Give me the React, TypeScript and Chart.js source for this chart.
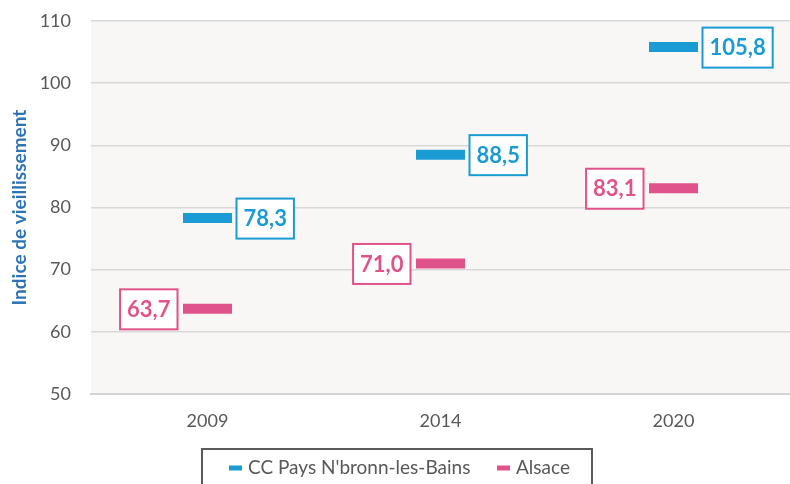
import React, { useEffect, useRef } from "react";
import { Chart, registerables } from "chart.js";

Chart.register(...registerables);

const categories = ["2009", "2014", "2020"];
const seriesNames = ["CC Pays N'bronn-les-Bains", "Alsace"];
const ccValues = [78.3, 88.5, 105.8];
const alsaceValues = [63.7, 71.0, 83.1];
const yTicks = [50, 60, 70, 80, 90, 100, 110];

const BLUE = "#1a9bd3";
const PINK = "#e0538a";
const FONT = "Lato, 'Open Sans', sans-serif";

const bgPlugin = {
  id: "plotBg",
  beforeDraw(chart: any) {
    const { ctx, chartArea } = chart;
    ctx.save();
    ctx.fillStyle = "#f8f7f6";
    ctx.fillRect(chartArea.left, chartArea.top, chartArea.right - chartArea.left, chartArea.bottom - chartArea.top);
    ctx.restore();
  },
};

const labelPlugin = {
  id: "valueLabels",
  afterDatasetsDraw(chart: any) {
    const { ctx } = chart;
    ctx.save();
    ctx.font = `bold 22px ${FONT}`;
    ctx.textBaseline = "middle";
    chart.data.datasets.forEach((ds: any, di: number) => {
      const meta = chart.getDatasetMeta(di);
      const color = ds.borderColor;
      meta.data.forEach((pt: any, i: number) => {
        const v = ds.data[i] as number;
        const txt = v.toFixed(1).replace(".", ",");
        const tw = ctx.measureText(txt).width;
        const w = tw + 14;
        const h = 40;
        const left = di === 0 ? pt.x + 29 : pt.x - 30 - w;
        const top = pt.y - h / 2 + 0.5;
        ctx.fillStyle = "#ffffff";
        ctx.fillRect(left, top, w, h);
        ctx.strokeStyle = color;
        ctx.lineWidth = 2;
        ctx.strokeRect(left, top, w, h);
        ctx.fillStyle = color;
        ctx.textAlign = "left";
        ctx.fillText(txt, left + 7, pt.y + 1);
      });
    });
    ctx.restore();
  },
};

const extrasPlugin = {
  id: "extras",
  afterDraw(chart: any) {
    const { ctx, chartArea } = chart;
    ctx.save();
    ctx.translate(20, (chartArea.top + chartArea.bottom) / 2);
    ctx.rotate(-Math.PI / 2);
    ctx.font = `bold 19px ${FONT}`;
    ctx.fillStyle = "#2e74b5";
    ctx.textAlign = "center";
    ctx.textBaseline = "middle";
    ctx.fillText("Indice de vieillissement", 0, 0);
    ctx.restore();

    ctx.save();
    ctx.strokeStyle = "#595959";
    ctx.lineWidth = 2;
    ctx.strokeRect(202, 449, 390, 60);
    ctx.font = `19px ${FONT}`;
    ctx.textBaseline = "middle";
    ctx.textAlign = "left";
    const items = [
      { name: seriesNames[0], color: BLUE, x: 229 },
      { name: seriesNames[1], color: PINK, x: 497 },
    ];
    items.forEach((it) => {
      ctx.strokeStyle = it.color;
      ctx.lineWidth = 5;
      ctx.beginPath();
      ctx.moveTo(it.x, 468);
      ctx.lineTo(it.x + 13, 468);
      ctx.stroke();
      ctx.fillStyle = "#595959";
      ctx.fillText(it.name, it.x + 19, 468);
    });
    ctx.restore();
  },
};

function zeroPad(s: any) {
  s.paddingTop = 0;
  s.paddingBottom = 0;
  s.paddingLeft = 0;
  s.paddingRight = 0;
}

export default function App() {
  const ref = useRef<HTMLCanvasElement>(null);
  useEffect(() => {
    if (!ref.current) return;
    const mk = (label: string, data: number[], color: string) => ({
      label,
      data,
      borderColor: color,
      backgroundColor: color,
      showLine: false,
      pointStyle: "line",
      pointRadius: 24.5,
      pointHoverRadius: 24.5,
      pointBorderWidth: 10,
      pointBorderColor: color,
    });
    const chart = new Chart(ref.current, {
      type: "line",
      data: {
        labels: categories,
        datasets: [mk(seriesNames[0], ccValues, BLUE), mk(seriesNames[1], alsaceValues, PINK)],
      },
      options: {
        animation: false,
        responsive: false,
        maintainAspectRatio: false,
        events: [],
        layout: { autoPadding: false, padding: { top: 21, left: 0, right: 0, bottom: 0 } },
        plugins: {
          legend: { display: false },
          tooltip: { enabled: false },
        },
        scales: {
          x: {
            type: "category",
            offset: true,
            grid: { display: false, drawTicks: false },
            border: { display: true, color: "#d4d4d4", width: 2 },
            ticks: {
              padding: 16,
              color: "#595959",
              font: { family: FONT, size: 18 },
            },
            afterFit(s: any) {
              s.height = 90;
              zeroPad(s);
            },
          },
          y: {
            min: 50,
            max: 110,
            afterBuildTicks(s: any) {
              s.ticks = yTicks.map((v) => ({ value: v }));
            },
            grid: { color: "#d9d9d9", lineWidth: 1.5, drawTicks: false },
            border: { display: false },
            ticks: {
              padding: 20,
              color: "#595959",
              font: { family: FONT, size: 18 },
            },
            afterFit(s: any) {
              s.width = 91;
              zeroPad(s);
            },
          },
        },
      },
      plugins: [bgPlugin, labelPlugin, extrasPlugin],
    } as any);
    return () => chart.destroy();
  }, []);
  return (
    <div style={{ position: "absolute", left: 0, top: 0, width: 790, height: 484, background: "#fff" }}>
      <canvas ref={ref} width={790} height={484} style={{ width: 790, height: 484, display: "block" }} />
    </div>
  );
}
